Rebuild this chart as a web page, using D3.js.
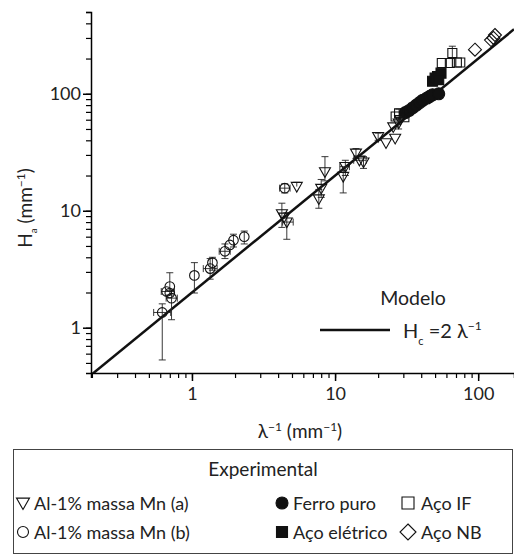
<!DOCTYPE html>
<html>
<head>
<meta charset="utf-8">
<script src="https://cdn.jsdelivr.net/npm/d3@7"></script>
<style>
  body { margin: 0; background: #fff; }
  svg { display: block; font-family: Lato, "Open Sans", sans-serif; }
</style>
</head>
<body>
<div id="chart"></div>
<script>
// data: [x, y, yLow, yHigh, xLow, xHigh]  (null = no error bar)
const alA = [ // Al-1% massa Mn (a) - triangles
  [4.25, 9.4, 7.2, 11.6, null, null],
  [4.6, 8.0, 5.7, 9.6, 4.3, 5.1],
  [4.4, 8.8, null, null, null, null],
  [5.4, 16.1, null, 17.5, null, null],
  [7.7, 12.6, 10.5, 15.2, null, null],
  [8.0, 15.5, 13, 18.5, null, null],
  [8.5, 21.5, 18, 29, null, null],
  [11.4, 19.6, 14.2, 22, null, null],
  [11.8, 23.8, 20, 27, 10.8, 12.6],
  [14.0, 31, 28, 34, null, null],
  [14.8, 27, null, null, 13.5, 16.5],
  [15.8, 26, 23, 29, null, null],
  [20, 43, 40, 46, null, null],
  [22.7, 38, null, null, null, null],
  [26.3, 41.5, null, null, null, null],
  [27.8, 56, 50, 63, null, null],
  [25.5, 52, null, null, null, null],
  [28.5, 60, null, null, null, null]
];
const alB = [ // Al-1% massa Mn (b) - circles
  [0.62, 1.35, 0.53, 1.6, 0.54, 0.71],
  [0.70, 2.25, 1.9, 2.95, null, null],
  [0.70, 1.98, null, null, null, null],
  [0.665, 2.04, null, null, 0.61, 0.75],
  [0.72, 1.79, 1.17, 2.1, 0.66, 0.79],
  [1.04, 2.8, 1.98, 3.6, null, null],
  [1.34, 3.2, 2.6, 3.9, 1.2, 1.5],
  [1.39, 3.6, 3.1, 4.0, null, null],
  [1.70, 4.5, 3.9, 5.2, 1.55, 1.85],
  [1.84, 5.1, null, null, null, null],
  [1.95, 5.6, 4.9, 6.3, null, null],
  [2.32, 6.0, 5.2, 6.7, null, null],
  [4.45, 15.6, 14.2, 17, 4.1, 4.85]
];
const ferro = [ // Ferro puro - filled circles
  [31, 69], [33, 72], [35, 76], [37, 80], [39, 84],
  [41, 88], [44, 92], [46, 95], [48, 98], [53, 100]
];
const eletrico = [ // Aço elétrico - filled squares
  [48, 128], [50, 136], [52, 140], [55, 150], [53, 132]
];
const acoIF = [ // Aço IF - open squares
  [55.7, 183, null, null, null, null],
  [63.4, 183, null, null, null, null],
  [66, 223, 200, 255, null, null],
  [71, 185, null, null, null, null],
  [75, 185, null, null, null, null],
  [28, 68, 62, 74, null, null],
  [30.5, 63, null, null, null, null],
  [26.5, 64, null, null, null, null]
];
const acoNB = [ // Aço NB - diamonds
  [95, 238], [123, 288], [131, 318], [128, 300]
];
const xTickLabels = [1, 10, 100];
const yTickLabels = [1, 10, 100];

const width = 514, height = 555;
const svg = d3.select("#chart").append("svg")
  .attr("width", width).attr("height", height);

const x = d3.scaleLog().domain([0.197, 178]).range([91, 514]);
const y = d3.scaleLog().domain([0.41, 500]).range([373, 12]);

const minorX = d3.range(-1, 3).flatMap(e => d3.range(1, 10).map(k => k * 10 ** e)).filter(v => v >= 0.2 && v <= 178);
const minorY = d3.range(-1, 3).flatMap(e => d3.range(1, 10).map(k => k * 10 ** e)).filter(v => v >= 0.42 && v <= 500);

// x axis
const gx = svg.append("g").attr("transform", "translate(0,373)");
gx.call(d3.axisBottom(x).tickValues(minorX).tickSize(5).tickFormat(""))
  .call(g => g.selectAll(".tick line").attr("stroke-width", 1.2));
gx.append("g").call(d3.axisBottom(x).tickValues(xTickLabels).tickSize(8).tickPadding(6)
    .tickFormat(d3.format("d")))
  .call(g => g.select(".domain").remove())
  .call(g => g.selectAll(".tick line").attr("stroke-width", 1.5))
  .call(g => g.selectAll("text").attr("font-size", 18).attr("fill", "#222").attr("font-family", "Lato"));
gx.select(".domain").attr("stroke-width", 1.5);

// y axis
const gy = svg.append("g").attr("transform", "translate(91,0)");
gy.call(d3.axisLeft(y).tickValues(minorY).tickSize(5).tickFormat(""))
  .call(g => g.selectAll(".tick line").attr("stroke-width", 1.2));
gy.append("g").call(d3.axisLeft(y).tickValues(yTickLabels).tickSize(8).tickPadding(2)
    .tickFormat(d3.format("d")))
  .call(g => g.select(".domain").remove())
  .call(g => g.selectAll(".tick line").attr("stroke-width", 1.5))
  .call(g => g.selectAll("text").attr("font-size", 18).attr("fill", "#222").attr("font-family", "Lato"));
gy.select(".domain").attr("stroke-width", 1.5);

// axis titles
svg.append("text").attr("x", 300).attr("y", 438).attr("text-anchor", "middle")
  .attr("font-size", 19).attr("fill", "#222")
  .html('λ<tspan dy="-7" font-size="12">−1</tspan><tspan dy="7"> (mm</tspan><tspan dy="-7" font-size="12">−1</tspan><tspan dy="7">)</tspan>');
svg.append("text").attr("transform", "translate(32,208) rotate(-90)").attr("text-anchor", "middle")
  .attr("font-size", 19).attr("fill", "#222")
  .html('H<tspan dy="5" font-size="10">a</tspan><tspan dy="-5"> (mm</tspan><tspan dy="-7" font-size="12">−1</tspan><tspan dy="7">)</tspan>');

// model line H = 2 / λ
const modelX = x.domain();
svg.append("clipPath").attr("id", "clip").append("rect")
  .attr("x", 91).attr("y", 12).attr("width", 423).attr("height", 361);
svg.append("line")
  .attr("clip-path", "url(#clip)")
  .attr("x1", x(modelX[0])).attr("y1", y(2 * modelX[0]))
  .attr("x2", x(modelX[1])).attr("y2", y(2 * modelX[1]))
  .attr("stroke", "#111").attr("stroke-width", 2.5);

// marker shapes
const shapes = {
  triDown: s => `M${-s},${-s * 0.75}L${s},${-s * 0.75}L0,${s * 1.0}Z`,
  circle: s => `M${s},0A${s},${s} 0 1,1 ${-s},0A${s},${s} 0 1,1 ${s},0Z`,
  square: s => `M${-s},${-s}H${s}V${s}H${-s}Z`,
  diamond: s => `M0,${-s}L${s},0L0,${s}L${-s},0Z`
};

function errorBars(data) {
  const g = svg.append("g").attr("stroke", "#222").attr("stroke-width", 0.9).attr("fill", "none");
  const cap = 3.5;
  data.forEach(d => {
    const px = x(d[0]), py = y(d[1]);
    if (d[2] != null || d[3] != null) {
      const y0 = d[2] != null ? y(d[2]) : py, y1 = d[3] != null ? y(d[3]) : py;
      g.append("line").attr("x1", px).attr("x2", px).attr("y1", y0).attr("y2", y1);
      if (d[2] != null) g.append("line").attr("x1", px - cap).attr("x2", px + cap).attr("y1", y0).attr("y2", y0);
      if (d[3] != null) g.append("line").attr("x1", px - cap).attr("x2", px + cap).attr("y1", y1).attr("y2", y1);
    }
    if (d[4] != null || d[5] != null) {
      const x0 = d[4] != null ? x(d[4]) : px, x1 = d[5] != null ? x(d[5]) : px;
      g.append("line").attr("x1", x0).attr("x2", x1).attr("y1", py).attr("y2", py);
      if (d[4] != null) g.append("line").attr("x1", x0).attr("x2", x0).attr("y1", py - cap).attr("y2", py + cap);
      if (d[5] != null) g.append("line").attr("x1", x1).attr("x2", x1).attr("y1", py - cap).attr("y2", py + cap);
    }
  });
}

function markers(data, shape, size, filled) {
  svg.append("g").selectAll("path").data(data).join("path")
    .attr("transform", d => `translate(${x(d[0])},${y(d[1])})`)
    .attr("d", shapes[shape](size))
    .attr("fill", filled ? "#111" : "none")
    .attr("stroke", "#111").attr("stroke-width", 1.1);
}

errorBars(alA); errorBars(alB); errorBars(acoIF);
markers(alA, "triDown", 5.5, false);
markers(alB, "circle", 4.8, false);
markers(ferro, "circle", 6, true);
markers(eletrico, "square", 5, true);
markers(acoIF, "square", 4.5, false);
markers(acoNB, "diamond", 6.5, false);

// model legend
svg.append("text").attr("x", 413).attr("y", 305).attr("text-anchor", "middle")
  .attr("font-size", 19.5).attr("fill", "#222").text("Modelo");
svg.append("line").attr("x1", 320).attr("x2", 390).attr("y1", 330).attr("y2", 330)
  .attr("stroke", "#111").attr("stroke-width", 2.5);
svg.append("text").attr("x", 403).attr("y", 338).attr("font-size", 20).attr("fill", "#222")
  .html('H<tspan dy="7" font-size="11">c</tspan><tspan dy="-7"> =2 λ</tspan><tspan dy="-8" font-size="12">−1</tspan>');

// experimental legend box
svg.append("rect").attr("x", 13.5).attr("y", 449.5).attr("width", 499).attr("height", 104)
  .attr("fill", "none").attr("stroke", "#444").attr("stroke-width", 1);
svg.append("text").attr("x", 263).attr("y", 476).attr("text-anchor", "middle")
  .attr("font-size", 19).attr("fill", "#222").text("Experimental");

const legendItems = [
  { label: "Al-1% massa Mn (a)", shape: "triDown", size: 6.5, filled: false, col: 0, row: 0 },
  { label: "Al-1% massa Mn (b)", shape: "circle", size: 5.5, filled: false, col: 0, row: 1 },
  { label: "Ferro puro", shape: "circle", size: 6, filled: true, col: 1, row: 0 },
  { label: "Aço elétrico", shape: "square", size: 5.5, filled: true, col: 1, row: 1 },
  { label: "Aço IF", shape: "square", size: 6, filled: false, col: 2, row: 0 },
  { label: "Aço NB", shape: "diamond", size: 8, filled: false, col: 2, row: 1 }
];
const colX = [23, 282, 408], rowY = [503, 532];
legendItems.forEach(it => {
  const g = svg.append("g").attr("transform", `translate(${colX[it.col]},${rowY[it.row]})`);
  g.append("path").attr("d", shapes[it.shape](it.size))
    .attr("fill", it.filled ? "#111" : "none").attr("stroke", "#111").attr("stroke-width", 1.1);
  g.append("text").attr("x", it.col === 2 ? 13 : 11).attr("y", 6.5)
    .attr("font-size", 18).attr("fill", "#222").text(it.label);
});
</script>
</body>
</html>
